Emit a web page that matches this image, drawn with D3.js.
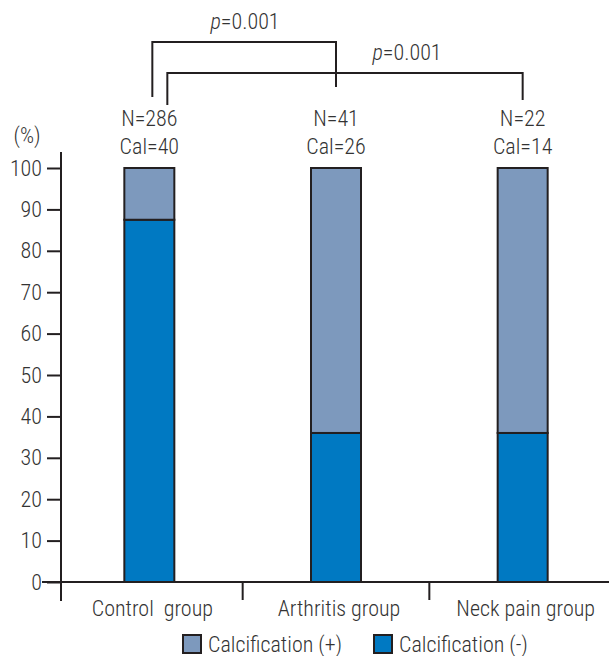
<!DOCTYPE html>
<html>
<head>
<meta charset="utf-8">
<script src="https://cdn.jsdelivr.net/npm/d3@7"></script>
<style>
body{margin:0;background:#fff}
text{font-family:"Liberation Sans Narrow","Roboto Condensed","Liberation Sans",sans-serif;fill:#333;font-weight:300}
</style>
</head>
<body>
<svg id="chart"></svg>
<script>
// data
var groups = ["Control  group", "Arthritis group", "Neck pain group"]
var nLabels = ["N=286", "N=41", "N=22"]
var calLabels = ["Cal=40", "Cal=26", "Cal=14"]
var calcNeg = [87.5, 36, 36]     // Calcification (-) %
var calcPos = [12.5, 64, 64]     // Calcification (+) %
var yTicks = [0, 10, 20, 30, 40, 50, 60, 70, 80, 90, 100]
var seriesNames = ["Calcification (+)", "Calcification (-)"]
var pLabels = ["p=0.001", "p=0.001"]

var screen = {width:609, height:656}
var colors = {pos:"#7d99bd", neg:"#0079c2", ink:"#231f20", txt:"#333"}

var svg = d3.select("#chart")
    .attr("width", screen.width)
    .attr("height", screen.height)

var yScale = d3.scaleLinear().domain([0,100]).range([582,168])
var xScale = d3.scaleBand().domain(groups).range([56,616])
var barW = 50
var cx = function(g){ return xScale(g) + xScale.bandwidth()/2 }

// y axis
var yAxis = d3.axisLeft(yScale).tickValues(yTicks).tickSize(14).tickPadding(5)
var ya = svg.append("g").attr("transform","translate(61,0)").call(yAxis)
ya.select(".domain").remove()
ya.selectAll(".tick line").attr("stroke",colors.ink).attr("stroke-width",2)
ya.selectAll(".tick text").attr("font-size",22).style("fill",colors.txt)
svg.append("line").attr("x1",61).attr("x2",61).attr("y1",152).attr("y2",601)
    .attr("stroke",colors.ink).attr("stroke-width",2)
svg.append("text").attr("x",27).attr("y",143).attr("text-anchor","middle")
    .attr("font-size",22).text("(%)")

// x axis line + dividers
svg.append("line").attr("x1",42).attr("x2",609).attr("y1",582).attr("y2",582)
    .attr("stroke",colors.ink).attr("stroke-width",2)
groups.slice(1).forEach(function(g){
    svg.append("line").attr("x1",xScale(g)).attr("x2",xScale(g)).attr("y1",582).attr("y2",600)
        .attr("stroke",colors.ink).attr("stroke-width",2)
})

// stacked bars
var rows = groups.map(function(g,i){ return {g:g, neg:calcNeg[i], pos:calcPos[i]} })
var bars = svg.append("g").selectAll("g").data(rows).enter().append("g")
bars.append("rect")
    .attr("x",function(d){ return cx(d.g)-barW/2 })
    .attr("y",function(d){ return yScale(d.neg) })
    .attr("width",barW)
    .attr("height",function(d){ return yScale(0)-yScale(d.neg) })
    .attr("fill",colors.neg).attr("stroke",colors.ink).attr("stroke-width",2)
bars.append("rect")
    .attr("x",function(d){ return cx(d.g)-barW/2 })
    .attr("y",function(d){ return yScale(d.neg+d.pos) })
    .attr("width",barW)
    .attr("height",function(d){ return yScale(d.neg)-yScale(d.neg+d.pos) })
    .attr("fill",colors.pos).attr("stroke",colors.ink).attr("stroke-width",2)

// category labels
svg.append("g").selectAll("text").data(groups).enter().append("text")
    .attr("x",function(d){ return cx(d)+3 })
    .attr("y",616)
    .attr("text-anchor","middle").attr("font-size",22)
    .style("white-space","pre")
    .text(function(d){ return d })

// N / Cal labels above bars
svg.append("g").selectAll("text").data(groups).enter().append("text")
    .attr("x",function(d){ return cx(d) })
    .attr("y",126).attr("text-anchor","middle").attr("font-size",22)
    .text(function(d,i){ return nLabels[i] })
svg.append("g").selectAll("text").data(groups).enter().append("text")
    .attr("x",function(d){ return cx(d) })
    .attr("y",154).attr("text-anchor","middle").attr("font-size",22)
    .text(function(d,i){ return calLabels[i] })

// significance brackets
var brackets = [
    {from:0, to:1, dx:3, top:42, left:97, right:87, label:pLabels[0], lx:245, ly:29},
    {from:0, to:2, dx:18, top:73, left:105, right:100, label:pLabels[1], lx:407, ly:60}
]
brackets.forEach(function(b){
    var x1 = cx(groups[b.from]) + b.dx
    var x2 = cx(groups[b.to])
    svg.append("path")
        .attr("d","M"+x1+","+b.left+"V"+b.top+"H"+x2+"V"+b.right)
        .attr("fill","none").attr("stroke",colors.ink).attr("stroke-width",2)
    var t = svg.append("text").attr("x",b.lx).attr("y",b.ly)
        .attr("text-anchor","middle").attr("font-size",22)
    t.append("tspan").attr("font-style","italic").text(b.label.slice(0,1))
    t.append("tspan").text(b.label.slice(1))
})

// legend
var legendX = [183, 374]
var leg = svg.append("g").selectAll("g").data(seriesNames).enter().append("g")
    .attr("transform",function(d,i){ return "translate("+legendX[i]+",635)" })
leg.append("rect").attr("width",18).attr("height",18)
    .attr("fill",function(d,i){ return i==0 ? colors.pos : colors.neg })
    .attr("stroke",colors.ink).attr("stroke-width",2)
leg.append("text").attr("x",25).attr("y",17).attr("font-size",22)
    .text(function(d){ return d })
</script>
</body>
</html>
